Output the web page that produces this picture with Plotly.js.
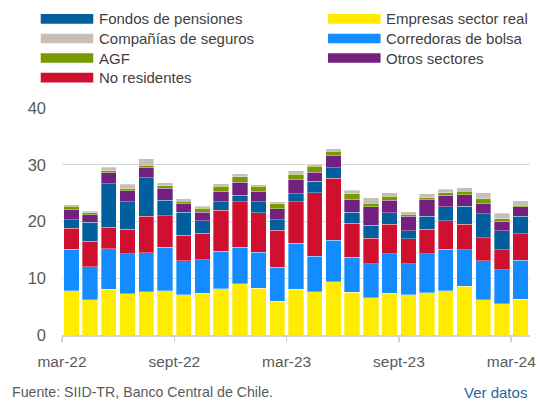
<!DOCTYPE html>
<html>
<head>
<meta charset="utf-8">
<script src="https://cdn.plot.ly/plotly-3.0.1.min.js"></script>
<style>
  html, body { margin: 0; padding: 0; background: #ffffff; }
  #chart { width: 551px; height: 403px; }
</style>
</head>
<body>
<div id="chart"></div>
<script>
// ---- Data ----
const months = ['mar-22','abr-22','may-22','jun-22','jul-22','ago-22','sept-22','oct-22','nov-22','dic-22','ene-23','feb-23',
                'mar-23','abr-23','may-23','jun-23','jul-23','ago-23','sept-23','oct-23','nov-23','dic-23','ene-24','feb-24','mar-24'];
const tickLabels = ['mar-22','sept-22','mar-23','sept-23','mar-24'];
const yTicks = [0, 10, 20, 30, 40];

const empresasSectorReal = [7.8, 6.25, 8.05, 7.3, 7.65, 7.8, 7.1, 7.35, 8.15, 9.05, 8.25, 5.95, 8.05, 7.65, 9.4, 7.55, 6.55, 7.35, 7.1, 7.45, 7.8, 8.55, 6.2, 5.55, 6.3];
const corredorasDeBolsa  = [7.35, 5.75, 7.15, 7.0, 6.85, 7.65, 6.0, 5.95, 6.65, 6.45, 6.35, 5.95, 8.1, 6.25, 7.3, 6.15, 6.0, 7.0, 5.45, 6.9, 7.3, 6.5, 6.85, 5.95, 6.9];
const noResidentes       = [3.7, 4.55, 3.8, 4.3, 6.4, 5.6, 4.45, 4.6, 7.2, 8.0, 6.95, 6.6, 7.3, 11.2, 10.9, 5.95, 4.5, 5.15, 4.45, 4.25, 5.05, 4.5, 4.05, 3.5, 4.65];
const fondosDePensiones  = [1.45, 3.35, 7.65, 4.85, 6.85, 2.7, 4.1, 2.25, 1.5, 1.1, 1.9, 1.8, 1.4, 1.95, 1.9, 2.0, 2.3, 2.05, 1.4, 2.35, 2.45, 3.15, 4.25, 3.4, 3.1];
const otrosSectores      = [1.8, 1.3, 1.95, 1.95, 1.85, 2.15, 1.5, 1.45, 1.75, 2.3, 1.9, 1.95, 2.6, 1.6, 2.05, 2.3, 3.25, 2.2, 2.5, 2.9, 2.0, 2.05, 1.8, 1.65, 1.65];
const agf                = [0.55, 0.35, 0.3, 0.4, 0.35, 0.4, 0.45, 0.75, 0.95, 1.0, 0.9, 0.9, 0.9, 1.05, 0.8, 0.9, 0.65, 0.7, 0.35, 0.35, 0.45, 0.6, 0.9, 0.45, 0.3];
const companiasDeSeguros = [0.3, 0.25, 0.65, 0.8, 1.15, 0.55, 0.4, 0.3, 0.45, 0.5, 0.25, 0.35, 0.6, 0.35, 0.5, 0.65, 0.9, 0.65, 0.5, 0.65, 0.6, 0.6, 1.0, 0.95, 0.75];

// stacking order bottom -> top
const series = [
  {name: 'Empresas sector real', values: empresasSectorReal, color: '#ffec00'},
  {name: 'Corredoras de bolsa',  values: corredorasDeBolsa,  color: '#138cff'},
  {name: 'No residentes',        values: noResidentes,       color: '#cf102f'},
  {name: 'Fondos de pensiones',  values: fondosDePensiones,  color: '#005f9c'},
  {name: 'Otros sectores',       values: otrosSectores,      color: '#73207f'},
  {name: 'AGF',                  values: agf,                color: '#779a00'},
  {name: 'Compañías de seguros', values: companiasDeSeguros, color: '#c8beb6'}
];
// legend layout (two columns)
const legendCol1 = ['Fondos de pensiones','Compañías de seguros','AGF','No residentes'];
const legendCol2 = ['Empresas sector real','Corredoras de bolsa','Otros sectores'];

const FONT = '"Liberation Sans", Arial, sans-serif';
const W = 551, H = 403;
const M = {l: 62, r: 20.5, t: 107.7, b: 68};
const PW = W - M.l - M.r, PH = H - M.t - M.b;
const px = x => (x - M.l) / PW;
const py = y => (H - M.b - y) / PH;

const xIdx = months.map((m, i) => i);
const traces = series.map(s => ({
  type: 'bar',
  name: s.name,
  x: xIdx,
  y: s.values,
  text: months,
  hovertemplate: '%{text}: %{y}<extra>' + s.name + '</extra>',
  textposition: 'none',
  marker: {color: s.color, line: {color: 'rgba(255,255,255,0.55)', width: 0.6}},
  showlegend: false
}));

const shapes = [];
const annotations = [];
function legendItem(name, col, row) {
  const s = series.find(d => d.name === name);
  const x0 = col === 0 ? 40.7 : 328.3;
  const yc = 18.5 + row * 19.6;
  shapes.push({type: 'rect', xref: 'paper', yref: 'paper',
    x0: px(x0), x1: px(x0 + 52.6), y0: py(yc - 4.8), y1: py(yc + 4.8),
    fillcolor: s.color, line: {width: 0}});
  annotations.push({xref: 'paper', yref: 'paper', x: px(x0 + 56), y: py(yc),
    xanchor: 'left', yanchor: 'middle', showarrow: false, text: name,
    font: {family: FONT, size: 15, color: '#3f3f3f'}});
}
legendCol1.forEach((n, i) => legendItem(n, 0, i));
legendCol2.forEach((n, i) => legendItem(n, 1, i));

annotations.push({xref: 'paper', yref: 'paper', x: px(10), y: py(392.5), xanchor: 'left', yanchor: 'middle',
  showarrow: false, text: 'Fuente: SIID-TR, Banco Central de Chile.', font: {family: FONT, size: 14.2, color: '#5a5a5a'}});
annotations.push({xref: 'paper', yref: 'paper', x: px(529), y: py(392.5), xanchor: 'right', yanchor: 'middle',
  showarrow: false, text: 'Ver datos', font: {family: FONT, size: 15, color: '#1f62a8'}});

const layout = {
  width: W, height: H,
  margin: M,
  paper_bgcolor: '#ffffff', plot_bgcolor: '#ffffff',
  barmode: 'stack', bargap: 0.18,
  showlegend: false,
  font: {family: FONT, size: 15, color: '#5a5a5a'},
  xaxis: {
    type: 'linear', range: [-0.5, months.length - 0.5],
    tickmode: 'array',
    tickvals: tickLabels.map(l => months.indexOf(l) - 0.5),
    ticktext: tickLabels,
    ticks: 'outside', ticklen: 5, tickwidth: 1.6, tickcolor: '#cfcfcf',
    ticklabelshift: PW / months.length / 2,
    ticklabelstandoff: 6,
    showline: true, linecolor: '#d2d2d2', linewidth: 2,
    showgrid: false, zeroline: false,
    tickfont: {family: FONT, size: 15.5, color: '#5a5a5a'}
  },
  yaxis: {
    range: [0, 40], tickmode: 'array', tickvals: yTicks, ticktext: yTicks.map(String),
    showgrid: true, gridcolor: '#d6d6d6', gridwidth: 1.3,
    zeroline: false, showline: false, ticks: '',
    ticklabelstandoff: 15,
    tickfont: {family: FONT, size: 16.5, color: '#5a5a5a'}
  },
  shapes: shapes,
  annotations: annotations
};

Plotly.newPlot('chart', traces, layout, {displayModeBar: false, staticPlot: true});
</script>
</body>
</html>
